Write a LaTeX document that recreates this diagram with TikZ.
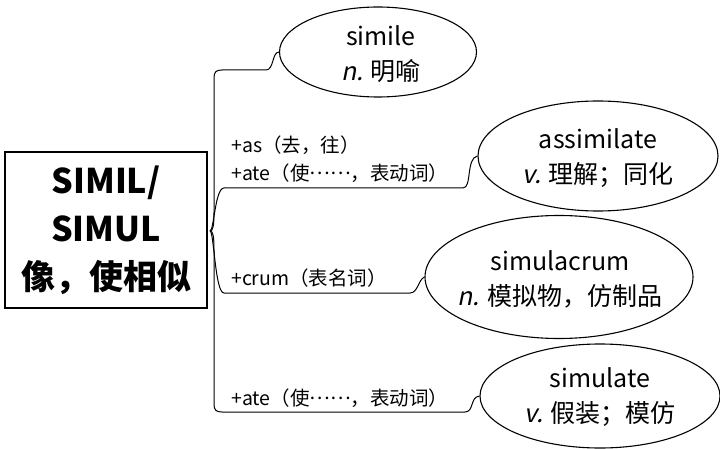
\documentclass[tikz,border=0pt]{standalone}
\usepackage{fontspec}
\setmainfont{Noto Sans CJK SC}[AutoFakeSlant=0.2]
\usetikzlibrary{shapes.geometric}
\newcommand{\midell}{\raisebox{0.32em}{……}}
\begin{document}
\begin{tikzpicture}[x=1pt,y=-1pt,
  word/.style={draw, ellipse, line width=1.1pt, inner sep=0pt},
  wtext/.style={align=center, inner sep=0pt, font=\fontsize{25}{35}\selectfont},
  lab/.style={anchor=west, inner sep=0pt, font=\fontsize{19.5}{28}\selectfont, align=left},
  branch/.style={line width=1pt}]
\useasboundingbox (0,0) rectangle (720,449);
\node[draw, line width=2pt, minimum width=202pt, minimum height=155pt, align=center,
  font=\fontsize{34}{48}\selectfont\bfseries, inner sep=0pt] (root) at (106,230)
  {SIMIL/\\SIMUL\\像，使相似};
\coordinate (J) at (210,231);
\node[word, minimum width=197pt, minimum height=90pt] (e1) at (378,52) {};
\node[wtext] (t1) at (381,54) {simile\\\textit{n.} 明喻};
\node[word, minimum width=240pt, minimum height=110pt] (e2) at (598,156) {};
\node[wtext] (t2) at (598,158) {assimilate\\\textit{v.} 理解；同化};
\node[word, minimum width=268pt, minimum height=123pt] (e3) at (559,277) {};
\node[wtext] (t3) at (560,279) {simulacrum\\\textit{n.} 模拟物，仿制品};
\node[word, minimum width=240pt, minimum height=104pt] (e4) at (600,396) {};
\node[wtext] (t4) at (600,397) {simulate\\\textit{v.} 假装；模仿};
\node[lab] (l1) at (231,159) {+as（去，往）\\+ate（使\midell，表动词）};
\node[lab] (l2) at (231,278) {+crum（表名词）};
\node[lab] (l3) at (231,398) {+ate（使\midell，表动词）};
\draw[branch] (J) .. controls (213,231) and (214,226) .. (214,212)
  -- (214,78) .. controls (214,72) and (216,70) .. (222,70) -- (266,70)
  .. controls (274,70) and (272,52) .. (e1.west);
\draw[branch] (J) .. controls (214,231) and (215,188) .. (224,188) -- (463,188)
  .. controls (472,188) and (466,158) .. (e2.west);
\draw[branch] (J) .. controls (214,231) and (215,293) .. (224,293) -- (410,293)
  .. controls (418,293) and (418,280) .. (e3.west);
\draw[branch] (J) .. controls (213,231) and (214,236) .. (214,250)
  -- (214,404) .. controls (214,410) and (216,412) .. (222,412) -- (465,412)
  .. controls (474,412) and (470,397) .. (e4.west);
\end{tikzpicture}
\end{document}
